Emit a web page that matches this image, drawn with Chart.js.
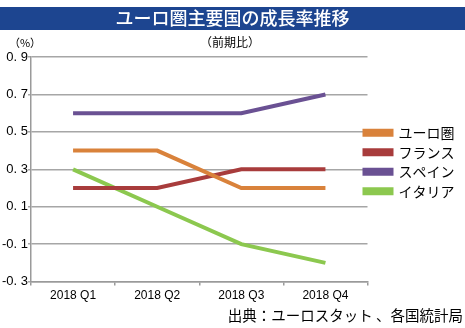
<!DOCTYPE html>
<html>
<head>
<meta charset="utf-8">
<script src="https://cdn.jsdelivr.net/npm/chart.js@4"></script>
<style>
  html, body { margin: 0; padding: 0; background: #fff; }
  #wrap { position: relative; width: 465px; height: 328px; }
</style>
</head>
<body>
<div id="wrap"><canvas id="growthChart" width="465" height="328"></canvas></div>
<script>
// 四半期
const quarters = ["2018 Q1", "2018 Q2", "2018 Q3", "2018 Q4"];

// 前期比成長率 (%)
const euroArea = [0.4, 0.4, 0.2, 0.2];
const france = [0.2, 0.2, 0.3, 0.3];
const spain = [0.6, 0.6, 0.6, 0.7];
const italy = [0.3, 0.1, -0.1, -0.2];

const seriesNames = ["ユーロ圏", "フランス", "スペイン", "イタリア"];
const seriesColors = ["#d9823b", "#a83c3c", "#6a5193", "#8cc84f"];

const titleText = "ユーロ圏主要国の成長率推移";
const subText = "（前期比）";
const unitText = "（%）";
const sourceText = "出典：ユーロスタット 、各国統計局";

const jpFont = "'Noto Sans CJK JP', 'Noto Sans', sans-serif";
const numFont = "'Liberation Sans', Arial, sans-serif";

// タイトル帯と注記、凡例の位置調整
const decor = {
    id: "decor",
    afterLayout(chart) {
        const lg = chart.legend;
        const h = lg.bottom - lg.top;
        const w = lg.right - lg.left;
        lg.top = 162 - h / 2;
        lg.bottom = lg.top + h;
        lg.left = 359;
        lg.right = lg.left + w;
    },
    afterDraw(chart) {
        const c = chart.ctx;
        c.save();
        c.fillStyle = "#1d4590";
        c.fillRect(0, 7, chart.width, 23);
        c.fillStyle = "#fff";
        c.font = "500 18px " + jpFont;
        c.textAlign = "center";
        c.textBaseline = "middle";
        c.fillText(titleText, chart.width / 2, 18);

        c.fillStyle = "#000";
        c.font = "12px " + jpFont;
        c.fillText(subText, 230, 42);
        c.font = "11px " + jpFont;
        c.fillText(unitText, 25, 43);

        c.font = "14.5px " + jpFont;
        c.textAlign = "right";
        c.fillText(sourceText, 463, 315);
        c.restore();
    }
};

const datasets = [euroArea, france, spain, italy].map((vals, i) => ({
    label: seriesNames[i],
    data: vals,
    borderColor: seriesColors[i],
    backgroundColor: seriesColors[i],
    borderWidth: 4,
    pointRadius: 0,
    tension: 0,
    fill: false
}));

new Chart(document.getElementById("growthChart"), {
    type: "line",
    data: { labels: quarters, datasets: datasets },
    plugins: [decor],
    options: {
        responsive: false,
        animation: false,
        layout: { padding: { top: 57, left: 0, right: -8, bottom: 22 } },
        plugins: {
            title: { display: false },
            tooltip: { enabled: false },
            legend: {
                position: "right",
                labels: {
                    boxWidth: 27,
                    boxHeight: 4,
                    padding: 5.5,
                    color: "#000",
                    font: { family: jpFont, size: 14 }
                }
            }
        },
        scales: {
            x: {
                offset: true,
                grid: {
                    offset: true,
                    drawOnChartArea: false,
                    color: "#9a9a9a",
                    tickLength: 4,
                    lineWidth: 1.5
                },
                border: { color: "#9a9a9a", width: 1.5 },
                ticks: {
                    color: "#000",
                    padding: 3,
                    font: { family: numFont, size: 12 }
                }
            },
            y: {
                min: -0.3,
                max: 0.9,
                afterFit(scale) { scale.width = 31; },
                grid: {
                    color: "#a6a6a6",
                    lineWidth: 1.5,
                    tickLength: 3
                },
                border: { color: "#9a9a9a", width: 1.5 },
                ticks: {
                    stepSize: 0.2,
                    color: "#000",
                    padding: 0,
                    font: { family: numFont, size: 13 },
                    callback: v => v.toFixed(1).replace(".", ". ")
                }
            }
        }
    }
});
</script>
</body>
</html>
